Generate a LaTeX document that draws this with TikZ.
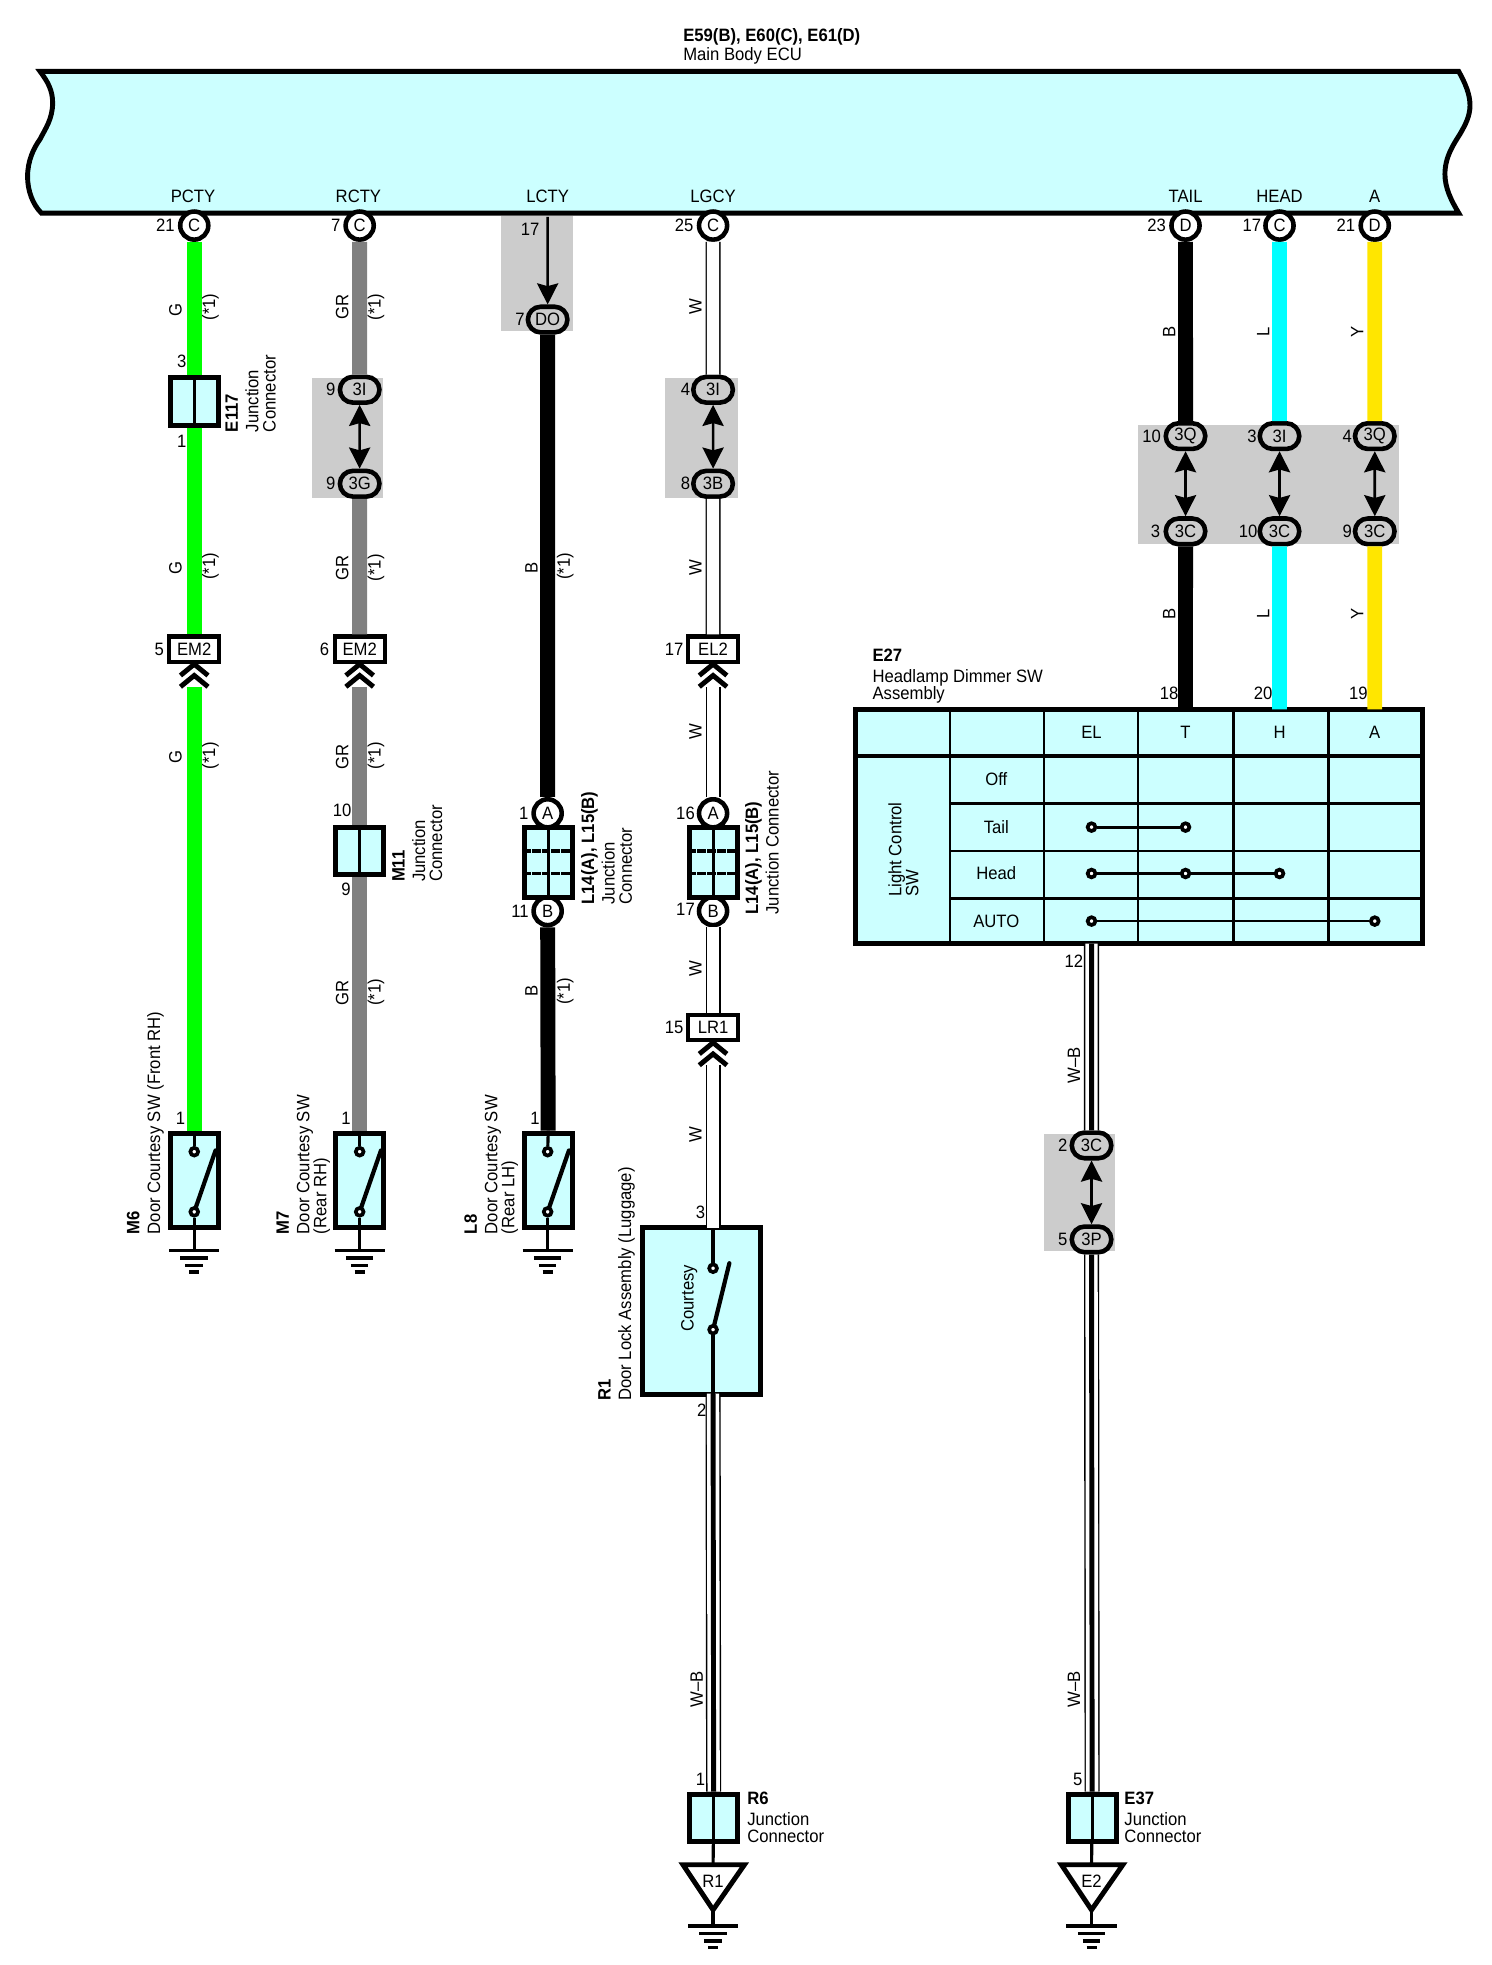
\documentclass[tikz,border=0pt]{standalone}
\usepackage{fontspec}
\setmainfont[FakeStretch=0.93]{Liberation Sans}
\usetikzlibrary{arrows.meta,shapes.misc}

\definecolor{ecublue}{HTML}{CCFFFF}
\definecolor{hidegrey}{HTML}{CCCCCC}
\definecolor{wiregreen}{HTML}{00FF00}
\definecolor{wiregrey}{HTML}{808080}
\definecolor{wirecyan}{HTML}{00FFFF}
\definecolor{wireyellow}{HTML}{FFE600}
\newcommand{\lblfont}{\fontsize{10.2}{9.7}\selectfont}

\tikzset{
	every node/.style={font=\lblfont, inner sep=0pt, align=left},
	rotlbl/.style={rotate=90, anchor=west},
	wirelbl/.style={rotate=90},
	wiregr/.style={line width=8.5pt, wiregreen},
	wireg/.style={line width=8.5pt, wiregrey},
	wireb/.style={line width=8.5pt, black},
	wirel/.style={line width=8.5pt, wirecyan},
	wirey/.style={line width=8.5pt, wireyellow},
	wirew/.style={line width=7pt, white, preaction={draw=black, line width=8.6pt}},
	wirewb/.style={line width=2.8pt, black, preaction={draw=black, line width=8.6pt}, preaction={draw=white, line width=7pt}},
	linktip/.tip={Stealth[length=12pt, width=12pt, inset=1.6pt]},
	link/.style={line width=1.5pt, linktip-linktip},
	pinc/.style={circle, draw, line width=2.6pt, fill=white, minimum size=16pt},
	oval/.style={rounded rectangle, draw, line width=2.6pt, fill=hidegrey, minimum width=22.5pt, minimum height=14.6pt},
	tag/.style={rectangle, draw, line width=2.4pt, fill=white, minimum width=28.5pt, minimum height=14.4pt},
	jbox/.style={rectangle, draw, line width=2.8pt, fill=ecublue, minimum width=27.2pt},
	swbox/.style={rectangle, draw, line width=2.8pt, fill=ecublue},
	cell/.style={line width=1.6pt},
	dot/.style={circle, draw, line width=2.1pt, fill=white, minimum size=4.4pt},
	lever/.style={line width=2.4pt, line cap=round},
	stem/.style={line width=1.8pt},
	hide/.style={fill=hidegrey},
	gndbar/.style={line width=2pt},
	chevline/.style={line width=2.8pt, miter limit=4},
	gnd/.pic={
		\draw[gndbar] (-20, 0) -- (20, 0);
		\draw[gndbar] (-11, 6) -- (11, 6);
		\draw[gndbar] (-7, 12) -- (7, 12);
		\draw[gndbar] (-4, 17) -- (4, 17);
	},
	chev/.pic={
		\draw[chevline] (-11, 9) -- (0, 0) -- (11, 9);
		\draw[chevline] (-11, 18) -- (0, 9) -- (11, 18);
	},
}

\begin{document}
\begin{tikzpicture}[x=0.025064cm, y=-0.025064cm]
			\useasboundingbox (0, 0) rectangle (1189.8, 1568);

			% grey areas
			\fill[hide] (400, 172) rectangle (457, 264);
			\fill[hide] (249, 302) rectangle (306, 397);
			\fill[hide] (531, 302) rectangle (589, 397);
			\fill[hide] (908, 339) rectangle (1116, 434);
			\fill[hide] (833, 905) rectangle (890, 998);

			% ECU
			\node[anchor=west] (ecutitle) at (545, 37)
				{\textbf{E59(B), E60(C), E61(D)}\\[1.5pt]Main Body ECU};
			\draw[fill=ecublue, line width=2.8pt, line join=miter]
				(33, 170) -- (1164, 170)
				.. controls (1158, 160) and (1153, 150) .. (1153, 139)
				.. controls (1153, 125) and (1160, 115) .. (1165, 107)
				.. controls (1169, 100) and (1173, 93) .. (1173, 84)
				.. controls (1173, 75) and (1169, 66) .. (1164, 57)
				-- (32, 57)
				.. controls (38, 65) and (42, 72) .. (42, 82)
				.. controls (42, 95) and (36, 103) .. (32, 111)
				.. controls (27, 118) and (22, 128) .. (22, 141)
				.. controls (22, 152) and (26, 163) .. (33, 170) -- cycle;
			\node (npcty) at (154, 157)
				{PCTY};
			\node (nrcty) at (286, 157)
				{RCTY};
			\node (nlcty) at (437, 157)
				{LCTY};
			\node (nlgcy) at (569, 157)
				{LGCY};
			\node (ntail) at (946, 157)
				{TAIL};
			\node (nhead) at (1021, 157)
				{HEAD};
			\node (na) at (1097, 157)
				{A};

			% PCTY
			\node[pinc] (pc1) at (155, 180)
				{C};
			\node (n21a) at (132, 180)
				{21};
			\node[jbox, minimum height=27pt] (e117) at (155, 320.5)
				{};
			\draw[cell] (e117.north) -- (e117.south);
			\node (n3a) at (145, 288)
				{3};
			\node (n1a) at (145, 352)
				{1};
			\node[rotlbl] (le117) at (200, 345)
				{\textbf{E117}\\[2pt]Junction\\Connector};
			\node[tag] (em2a) at (155, 518)
				{EM2};
			\node (n5a) at (127, 518)
				{5};
			\pic at (155, 530) {chev};
			\coordinate (cha) at (155, 548);
			\node[swbox, minimum width=27.2pt, minimum height=54pt] (m6) at (155, 942)
				{};
			\node[dot] (m6u) at (155, 919)
				{};
			\node[dot] (m6d) at (155, 967)
				{};
			\coordinate (m6l) at (172, 918);
			\coordinate (m6g) at (155, 998);
			\draw[wiregr] (pc1) -- (e117);
			\draw[wiregr] (e117) -- (em2a);
			\draw[wiregr] (cha) -- (m6);
			\draw[stem] (m6.north) -- (m6u);
			\draw[lever] (m6d) -- (m6l);
			\draw[stem] (m6d) -- (m6g);
			\pic at (m6g) {gnd};
			\node[wirelbl] (g1) at (140, 247)
				{G};
			\node[wirelbl] (s1) at (168, 245)
				{(*1)};
			\node[wirelbl] (g2) at (140, 453)
				{G};
			\node[wirelbl] (s2) at (168, 452)
				{(*1)};
			\node[wirelbl] (g3) at (140, 604)
				{G};
			\node[wirelbl] (s3) at (168, 603)
				{(*1)};
			\node (n1b) at (144, 892)
				{1};
			\node[rotlbl] (lm6) at (116, 985)
				{\textbf{M6}\\[2pt]Door Courtesy SW (Front RH)};

			% RCTY
			\node[pinc] (pc2) at (287, 180)
				{C};
			\node (n7a) at (268, 180)
				{7};
			\node[oval] (o3i) at (287, 311)
				{3I};
			\node[oval] (o3g) at (287, 386)
				{3G};
			\node (n9a) at (264, 311)
				{9};
			\node (n9b) at (264, 386)
				{9};
			\draw[link] (o3i) -- (o3g);
			\node[tag] (em2b) at (287, 518)
				{EM2};
			\node (n6a) at (259, 518)
				{6};
			\pic at (287, 530) {chev};
			\coordinate (chb) at (287, 548);
			\node[jbox, minimum height=27pt] (m11) at (287, 679)
				{};
			\draw[cell] (m11.north) -- (m11.south);
			\node (n10a) at (273, 647)
				{10};
			\node (n9c) at (276, 710)
				{9};
			\node[rotlbl] (lm11) at (333, 704)
				{\textbf{M11}\\[2pt]Junction\\Connector};
			\node[swbox, minimum width=27.2pt, minimum height=54pt] (m7) at (287, 942)
				{};
			\node[dot] (m7u) at (287, 919)
				{};
			\node[dot] (m7d) at (287, 967)
				{};
			\coordinate (m7l) at (304, 918);
			\coordinate (m7g) at (287, 998);
			\draw[wireg] (pc2) -- (o3i);
			\draw[wireg] (o3g) -- (em2b);
			\draw[wireg] (chb) -- (m11);
			\draw[wireg] (m11) -- (m7);
			\draw[stem] (m7.north) -- (m7u);
			\draw[lever] (m7d) -- (m7l);
			\draw[stem] (m7d) -- (m7g);
			\pic at (m7g) {gnd};
			\node[wirelbl] (gr1) at (273, 245)
				{GR};
			\node[wirelbl] (s4) at (300, 245)
				{(*1)};
			\node[wirelbl] (gr2) at (273, 453)
				{GR};
			\node[wirelbl] (s5) at (300, 453)
				{(*1)};
			\node[wirelbl] (gr3) at (273, 604)
				{GR};
			\node[wirelbl] (s6) at (300, 603)
				{(*1)};
			\node[wirelbl] (gr4) at (273, 792)
				{GR};
			\node[wirelbl] (s7) at (300, 792)
				{(*1)};
			\node (n1c) at (276, 892)
				{1};
			\node[rotlbl] (lm7) at (242, 985)
				{\textbf{M7}\\[2pt]Door Courtesy SW\\(Rear RH)};

			% LCTY
			\coordinate (lc) at (437, 173);
			\node[oval] (odo) at (437, 255)
				{DO};
			\node (n17a) at (423, 183)
				{17};
			\node (n7b) at (415, 255)
				{7};
			\draw[line width=1.5pt, -linktip] (lc) -- (odo);
			\node[pinc] (la1) at (437, 649)
				{A};
			\node[pinc] (lb1) at (437, 727)
				{B};
			\node[jbox, minimum height=40pt] (l14a) at (437.5, 688)
				{};
			\draw[cell] (l14a.north) -- (l14a.south);
			\draw[cell, line width=2.2pt, dash pattern=on 5pt off .6pt] (l14a.west |- 0, 679) -- (l14a.east |- 0, 679);
			\draw[cell, dash pattern=on 5pt off .6pt] (l14a.west |- 0, 697) -- (l14a.east |- 0, 697);
			\node (n1d) at (418, 649)
				{1};
			\node (n11a) at (415, 727)
				{11};
			\node[rotlbl] (ll14a) at (484, 722)
				{\textbf{L14(A), L15(B)}\\[2pt]Junction\\Connector};
			\node[swbox, minimum width=27.2pt, minimum height=54pt] (l8) at (437.5, 942)
				{};
			\node[dot] (l8u) at (437, 919)
				{};
			\node[dot] (l8d) at (437, 967)
				{};
			\coordinate (l8l) at (454, 918);
			\coordinate (l8g) at (437, 998);
			\draw[wireb] (odo) -- (la1);
			\draw[wireb] (lb1) -- (l8);
			\draw[stem] (l8.north) -- (l8u);
			\draw[lever] (l8d) -- (l8l);
			\draw[stem] (l8d) -- (l8g);
			\pic at (l8g) {gnd};
			\node[wirelbl] (b1) at (424, 453)
				{B};
			\node[wirelbl] (s8) at (451, 452)
				{(*1)};
			\node[wirelbl] (b2) at (424, 791)
				{B};
			\node[wirelbl] (s9) at (451, 791)
				{(*1)};
			\node (n1e) at (427, 892)
				{1};
			\node[rotlbl] (ll8) at (392, 985)
				{\textbf{L8}\\[2pt]Door Courtesy SW\\(Rear LH)};

			% LGCY
			\node[pinc] (pc3) at (569, 180)
				{C};
			\node (n25a) at (546, 180)
				{25};
			\node[oval] (o3i2) at (569, 311)
				{3I};
			\node[oval] (o3b) at (569, 386)
				{3B};
			\node (n4a) at (547, 311)
				{4};
			\node (n8a) at (547, 386)
				{8};
			\draw[link] (o3i2) -- (o3b);
			\node[tag] (el2) at (569, 518)
				{EL2};
			\node (n17b) at (538, 518)
				{17};
			\pic at (569, 530) {chev};
			\coordinate (chc) at (569, 548);
			\node[pinc] (la2) at (569, 649)
				{A};
			\node[pinc] (lb2) at (569, 727)
				{B};
			\node[jbox, minimum height=40pt] (l14b) at (569.5, 688)
				{};
			\draw[cell] (l14b.north) -- (l14b.south);
			\draw[cell, line width=2.2pt, dash pattern=on 5pt off .6pt] (l14b.west |- 0, 679) -- (l14b.east |- 0, 679);
			\draw[cell, dash pattern=on 5pt off .6pt] (l14b.west |- 0, 697) -- (l14b.east |- 0, 697);
			\node (n16a) at (547, 649)
				{16};
			\node (n17c) at (547, 726)
				{17};
			\node[rotlbl] (ll14b) at (608, 730)
				{\textbf{L14(A), L15(B)}\\[2pt]Junction Connector};
			\node[tag] (lr1) at (569, 820)
				{LR1};
			\node (n15a) at (538, 820)
				{15};
			\pic at (569, 832) {chev};
			\coordinate (chd) at (569, 850);
			\node[swbox, minimum width=67pt, minimum height=95pt] (r1) at (560, 1046)
				{};
			\coordinate (r1t) at (569, 980);
			\coordinate (r1b) at (569, 1112);
			\node[dot] (r1u) at (569, 1012)
				{};
			\node[dot] (r1d) at (569, 1061)
				{};
			\coordinate (r1l) at (582, 1008);
			\node[jbox, minimum height=27pt] (r6) at (569.5, 1450.5)
				{};
			\draw[cell] (r6.north) -- (r6.south);
			\draw[wirew] (pc3) -- (o3i2);
			\draw[wirew] (o3b) -- (el2);
			\draw[wirew] (chc) -- (la2);
			\draw[wirew] (lb2) -- (lr1);
			\draw[wirew] (chd) -- (r1t);
			\draw[wirewb] (r1b) -- (r6);
			\draw[stem] (r1t) -- (r1u);
			\draw[lever] (r1d) -- (r1l);
			\draw[stem] (r1d) -- (r1b);
			\node[wirelbl] (w1) at (555, 245)
				{W};
			\node[wirelbl] (w2) at (555, 453)
				{W};
			\node[wirelbl] (w3) at (555, 584)
				{W};
			\node[wirelbl] (w4) at (555, 773)
				{W};
			\node[wirelbl] (w5) at (555, 905)
				{W};
			\node (n3b) at (559, 967)
				{3};
			\node (n2a) at (560, 1125)
				{2};
			\node[wirelbl] (cy) at (550, 1036)
				{Courtesy};
			\node[rotlbl] (lr1a) at (492, 1118)
				{\textbf{R1}\\[2pt]Door Lock Assembly (Luggage)};
			\node[wirelbl] (wb1) at (556, 1348)
				{W--B};
			\node (n1f) at (559, 1420)
				{1};
			\node[anchor=west] (lr6) at (596, 1450)
				{\textbf{R6}\\[2pt]Junction\\Connector};
			\coordinate (tr1) at (569, 1488);
			\coordinate (tr1b) at (569, 1524);
			\coordinate (gr1c) at (569, 1537);
			\draw[swbox, fill=white, line join=miter] (545, 1488) -- (594, 1488) -- (tr1b) -- cycle;
			\node (tr1t) at (569, 1501)
				{R1};
			\draw[stem] (r6) -- (tr1);
			\draw[stem] (tr1b) -- (gr1c);
			\pic at (gr1c) {gnd};

			% TAIL
			\node[pinc] (pd1) at (946, 180)
				{D};
			\node (n23a) at (923, 180)
				{23};
			\node[oval] (o3q1) at (946, 348)
				{3Q};
			\node[oval] (o3c1) at (946, 424)
				{3C};
			\node (n10b) at (919, 348)
				{10};
			\node (n3c) at (922, 424)
				{3};
			\draw[link] (o3q1) -- (o3c1);
			\node[wirelbl] (b3) at (933, 265)
				{B};
			\node[wirelbl] (b4) at (933, 490)
				{B};
			\node (n18a) at (933, 553)
				{18};

			% HEAD
			\node[pinc] (pc4) at (1021, 180)
				{C};
			\node (n17d) at (999, 180)
				{17};
			\node[oval] (o3i3) at (1021, 348)
				{3I};
			\node[oval] (o3c2) at (1021, 424)
				{3C};
			\node (n3d) at (999, 348)
				{3};
			\node (n10c) at (996, 424)
				{10};
			\draw[link] (o3i3) -- (o3c2);
			\node[wirelbl] (l1) at (1008, 265)
				{L};
			\node[wirelbl] (l2) at (1008, 490)
				{L};
			\node (n20a) at (1008, 553)
				{20};

			% A
			\node[pinc] (pd2) at (1097, 180)
				{D};
			\node (n21b) at (1074, 180)
				{21};
			\node[oval] (o3q2) at (1097, 348)
				{3Q};
			\node[oval] (o3c3) at (1097, 424)
				{3C};
			\node (n4b) at (1075, 348)
				{4};
			\node (n9d) at (1075, 424)
				{9};
			\draw[link] (o3q2) -- (o3c3);
			\node[wirelbl] (y1) at (1083, 265)
				{Y};
			\node[wirelbl] (y2) at (1083, 490)
				{Y};
			\node (n19a) at (1084, 553)
				{19};

			% E27
			\node[anchor=west] (le27) at (696, 539.5)
				{\textbf{E27}\\[2pt]Headlamp Dimmer SW\\Assembly};
			\node[swbox, minimum width=322.5pt, minimum height=133.5pt] (e27) at (909, 659.5)
				{};
			\coordinate (e27t) at (946, 566);
			\coordinate (e27h) at (1021, 566);
			\coordinate (e27a) at (1097, 566);
			\coordinate (e27b) at (871, 753);
			\draw[wireb] (pd1) -- (o3q1);
			\draw[wireb] (o3c1) -- (e27t);
			\draw[wirel] (pc4) -- (o3i3);
			\draw[wirel] (o3c2) -- (e27h);
			\draw[wirey] (pd2) -- (o3q2);
			\draw[wirey] (o3c3) -- (e27a);
			\draw[cell] (758, 566) -- (758, 753);
			\draw[cell] (833, 566) -- (833, 753);
			\draw[cell] (908, 566) -- (908, 753);
			\draw[cell] (984, 566) -- (984, 753);
			\draw[cell] (1060, 566) -- (1060, 753);
			\draw[cell, line width=2.2pt] (683, 603) -- (1135, 603);
			\draw[cell] (758, 641) -- (1135, 641);
			\draw[cell] (758, 679) -- (1135, 679);
			\draw[cell] (758, 717) -- (1135, 717);
			\node (hel) at (871, 584)
				{EL};
			\node (ht) at (946, 584)
				{T};
			\node (hh) at (1021, 584)
				{H};
			\node (ha) at (1097, 584)
				{A};
			\node (roff) at (795, 622)
				{Off};
			\node (rtail) at (795, 660)
				{Tail};
			\node (rhead) at (795, 697)
				{Head};
			\node (rauto) at (795, 735)
				{AUTO};
			\node[rotlbl] (llc) at (721, 716)
				{Light Control\\SW};
			\node[dot] (c1a) at (871, 660)
				{};
			\node[dot] (c1b) at (946, 660)
				{};
			\node[dot] (c2a) at (871, 697)
				{};
			\node[dot] (c2b) at (946, 697)
				{};
			\node[dot] (c2c) at (1021, 697)
				{};
			\node[dot] (c3a) at (871, 735)
				{};
			\node[dot] (c3b) at (1097, 735)
				{};
			\draw[stem] (c1a) -- (c1b);
			\draw[stem] (c2a) -- (c2b);
			\draw[stem] (c2b) -- (c2c);
			\draw[stem, line width=1.4pt] (c3a) -- (c3b);

			% E27 down
			\node (n12a) at (857, 767)
				{12};
			\node[oval] (o3c4) at (871, 914)
				{3C};
			\node[oval] (o3p) at (871, 989)
				{3P};
			\node (n2b) at (848, 914)
				{2};
			\node (n5b) at (848, 989)
				{5};
			\draw[link] (o3c4) -- (o3p);
			\node[jbox, minimum height=27pt] (e37) at (871.5, 1450.5)
				{};
			\draw[cell] (e37.north) -- (e37.south);
			\draw[wirewb] (e27b) -- (o3c4);
			\draw[wirewb] (o3p) -- (e37);
			\node[wirelbl] (wb2) at (857, 850)
				{W--B};
			\node[wirelbl] (wb3) at (857, 1348)
				{W--B};
			\node (n5c) at (860, 1420)
				{5};
			\node[anchor=west] (le37) at (897, 1450)
				{\textbf{E37}\\[2pt]Junction\\Connector};
			\coordinate (te2) at (871, 1488);
			\coordinate (te2b) at (871, 1524);
			\coordinate (gr2c) at (871, 1537);
			\draw[swbox, fill=white, line join=miter] (847, 1488) -- (896, 1488) -- (te2b) -- cycle;
			\node (te2t) at (871, 1501)
				{E2};
			\draw[stem] (e37) -- (te2);
			\draw[stem] (te2b) -- (gr2c);
			\pic at (gr2c) {gnd};
\end{tikzpicture}
\end{document}
